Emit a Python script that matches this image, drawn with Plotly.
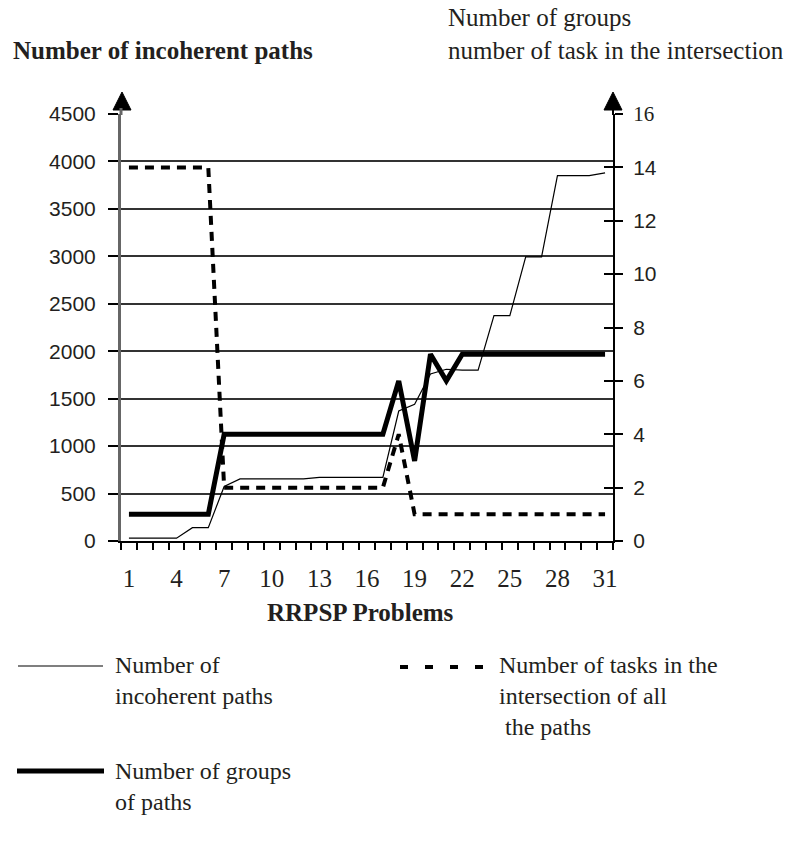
import plotly.graph_objects as go

# ---------------- data ----------------
problems = list(range(1, 32))
incoherent_paths = [30, 30, 30, 30, 140, 140, 575, 655, 655, 655, 655, 655, 670, 670, 670, 670, 670,
                    1370, 1440, 1760, 1810, 1800, 1800, 2375, 2375, 2995, 2995, 3850, 3850, 3850, 3880]
groups_of_paths = [1, 1, 1, 1, 1, 1, 4, 4, 4, 4, 4, 4, 4, 4, 4, 4, 4, 6, 3, 7, 6, 7, 7, 7, 7, 7, 7, 7, 7, 7, 7]
tasks_intersection = [14, 14, 14, 14, 14, 14, 2, 2, 2, 2, 2, 2, 2, 2, 2, 2, 2, 4, 1, 1, 1, 1, 1, 1, 1, 1,
                      1, 1, 1, 1, 1]
x_tick_vals = [1, 4, 7, 10, 13, 16, 19, 22, 25, 28, 31]
left_ticks = [0, 500, 1000, 1500, 2000, 2500, 3000, 3500, 4000, 4500]
right_ticks = [0, 2, 4, 6, 8, 10, 12, 14, 16]

# ---------------- geometry (screen pixels of the 799x845 page) ----------------
OFF = 8                      # default body margin of the html page
W_FIG, H_FIG = 799 - OFF, 845 - OFF
L, R, T, B = 121, 613, 114, 541
PW, PH = R - L, B - T


def px(x):
    return (x - L) / PW


def py(y):
    return (B - y) / PH


SERIF = "Liberation Serif"
SANS = "Liberation Sans"
INK = "#231f20"

fig = go.Figure()

fig.add_trace(go.Scatter(x=problems, y=incoherent_paths, mode="lines",
                         line=dict(color="black", width=1.2), yaxis="y",
                         showlegend=False, hoverinfo="skip"))
fig.add_trace(go.Scatter(x=problems, y=tasks_intersection, mode="lines",
                         line=dict(color="black", width=4, dash="9px,7px"), yaxis="y2",
                         showlegend=False, hoverinfo="skip"))
fig.add_trace(go.Scatter(x=problems, y=groups_of_paths, mode="lines",
                         line=dict(color="black", width=5), yaxis="y2",
                         showlegend=False, hoverinfo="skip"))
# invisible trace so the inner tick axis is drawn
fig.add_trace(go.Scatter(x=[None], y=[None], yaxis="y3", showlegend=False, hoverinfo="skip"))

right_text = [str(v) for v in right_ticks]
right_text[-1] = '<span style="font-family:Liberation Serif">16</span>'

fig.update_layout(
    width=W_FIG, height=H_FIG,
    margin=dict(l=L - OFF, r=799 - R, t=T - OFF, b=845 - B, pad=0),
    paper_bgcolor="white", plot_bgcolor="white",
    showlegend=False,
    xaxis=dict(range=[0.5, 31.5], tickmode="array", tickvals=x_tick_vals,
               ticktext=[str(v) for v in x_tick_vals], ticks="", showgrid=False,
               showline=True, linecolor="black", linewidth=2, zeroline=False,
               tickfont=dict(family=SERIF, size=25, color=INK), ticklabelstandoff=14,
               minor=dict(tickmode="linear", tick0=0.5, dtick=1, ticks="outside", ticklen=7,
                          tickwidth=1.5, tickcolor="black", showgrid=False)),
    yaxis=dict(range=[0, 4500], tickmode="array", tickvals=left_ticks,
               ticks="outside", ticklen=10, tickcolor="black", tickwidth=1.5,
               showgrid=True, gridcolor="#333333", gridwidth=1.5,
               showline=True, linecolor="#666666", linewidth=3, zeroline=False,
               tickfont=dict(family=SANS, size=21, color=INK), ticklabelstandoff=8),
    yaxis2=dict(range=[0, 16], overlaying="y", side="right", tickmode="array",
                tickvals=right_ticks, ticktext=right_text, ticks="outside", ticklen=8,
                tickcolor="black", tickwidth=1.5, showgrid=False, showline=True,
                linecolor="black", linewidth=2, zeroline=False,
                tickfont=dict(family=SANS, size=21, color=INK), ticklabelstandoff=6),
    yaxis3=dict(range=[0, 16], overlaying="y", side="right", tickmode="array",
                tickvals=right_ticks, ticks="inside", ticklen=9, tickcolor="black",
                tickwidth=1.5, showticklabels=False, showgrid=False, showline=False,
                zeroline=False),
)

shapes = []
# axis arrows
for cx in (122, 613):
    shapes.append(dict(type="path", xref="paper", yref="paper",
                       path=f"M {px(cx)},{py(92)} L {px(cx - 9)},{py(110)} L {px(cx + 9)},{py(110)} Z",
                       fillcolor="black", line=dict(color="black", width=1)))
shapes.append(dict(type="line", xref="paper", yref="paper", x0=px(121), x1=px(121),
                   y0=py(108), y1=py(115), line=dict(color="#666666", width=3)))
shapes.append(dict(type="line", xref="paper", yref="paper", x0=px(613), x1=px(613),
                   y0=py(108), y1=py(115), line=dict(color="black", width=2)))
shapes.append(dict(type="line", xref="paper", yref="paper", x0=px(613), x1=px(613),
                   y0=py(541), y1=py(547), line=dict(color="black", width=2)))
# legend samples
shapes.append(dict(type="line", xref="paper", yref="paper", x0=px(18), x1=px(103),
                   y0=py(666), y1=py(666), line=dict(color="black", width=1.2)))
shapes.append(dict(type="line", xref="paper", yref="paper", x0=px(17), x1=px(104),
                   y0=py(771), y1=py(771), line=dict(color="black", width=5)))
shapes.append(dict(type="line", xref="paper", yref="paper", x0=px(400), x1=px(490),
                   y0=py(667), y1=py(667), line=dict(color="black", width=4, dash="8px,17px")))
fig.update_layout(shapes=shapes)

annotations = []


def txt(text, x, y, size=24, bold=False, xanchor="left"):
    t = f"<b>{text}</b>" if bold else text
    annotations.append(dict(text=t, x=px(x), y=py(y), xref="paper", yref="paper",
                            xanchor=xanchor, yanchor="middle", align=xanchor if xanchor != "center" else "center",
                            showarrow=False, font=dict(family=SERIF, size=size, color=INK)))


txt("Number of incoherent paths", 11, 50, size=25, bold=True)
txt("Number of groups<br>number of task in the intersection", 446, 34, size=25)
txt("RRPSP Problems", 360, 612, size=25, bold=True, xanchor="center")
txt("Number of<br>incoherent paths", 113, 680, size=24)
txt("Number of tasks in the<br>intersection of all<br>\u00a0the paths", 497, 696, size=24)
txt("Number of groups<br>of paths", 113, 786, size=24)
fig.update_layout(annotations=annotations)

fig.write_html("out.html")
